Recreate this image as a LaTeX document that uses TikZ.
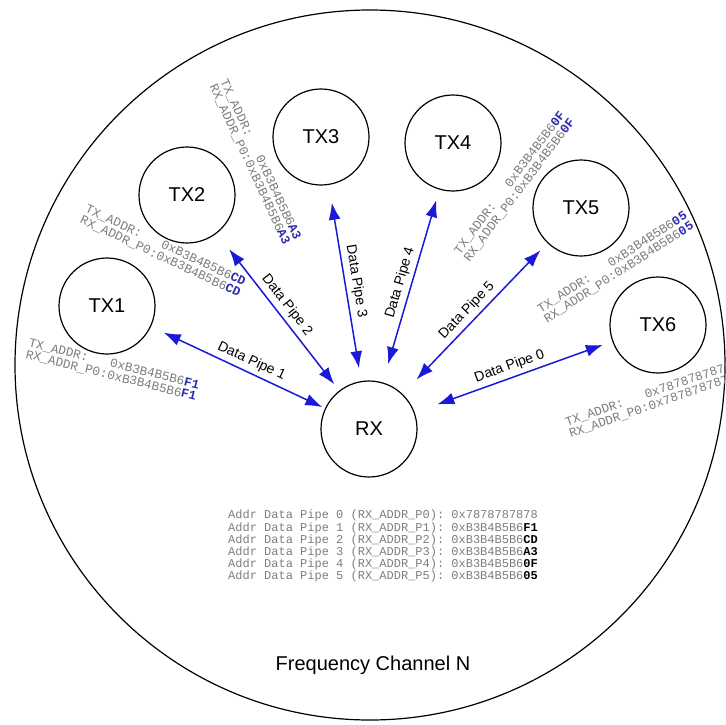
\documentclass[tikz,border=0pt]{standalone}
\usepackage{fontspec}
\setmainfont{Liberation Sans}
\setmonofont{Liberation Mono}
\usetikzlibrary{arrows.meta}
\definecolor{pipeblue}{RGB}{25,25,215}
\definecolor{addrgrey}{RGB}{125,125,125}
\definecolor{hexblue}{RGB}{45,45,175}
\newcommand{\hb}[1]{\textcolor{hexblue}{\bfseries #1}}
\newcommand{\hk}[1]{\textcolor{black}{\bfseries #1}}
\begin{document}
\begin{tikzpicture}[x=1pt,y=-1pt,
  dev/.style={circle, draw=black, line width=1.2pt, minimum size=96pt, inner sep=0pt,
    font=\fontsize{20}{23}\selectfont},
  pipe/.style={draw=pipeblue, line width=1.5pt,
    {Latex[length=17pt,width=12pt]}-{Latex[length=17pt,width=12pt]}},
  pipelabel/.style={sloped, above, font=\fontsize{14}{16}\selectfont, inner sep=4pt},
  addr/.style={font=\fontsize{12.7}{12}\selectfont\ttfamily, text=addrgrey, align=left,
    inner sep=0pt, anchor=north west},
  tablestyle/.style={font=\fontsize{12}{11}\selectfont\ttfamily, text=addrgrey, align=left,
    inner sep=0pt, anchor=north west},
  channel/.style={font=\fontsize{20}{23}\selectfont, inner sep=0pt},
]
\useasboundingbox (0,0) rectangle (726,724);
\begin{scope}
  \clip (0,0) rectangle (726,724);
  \draw[line width=1.2pt] (370,365) circle[radius=355];
\end{scope}

\node[dev] (TX1) at (107,306) {TX1};
\node[dev] (TX2) at (187,195) {TX2};
\node[dev] (TX3) at (321,137) {TX3};
\node[dev] (TX4) at (453,143) {TX4};
\node[dev] (TX5) at (581,208) {TX5};
\node[dev] (TX6) at (658,325) {TX6};
\node[dev] (RX)  at (369,429) {RX};

\draw[pipe, shorten <=14pt, shorten >=3pt] (TX1) -- node[pipelabel, pos=0.55] {Data Pipe 1} (RX);
\draw[pipe, shorten <=20pt, shorten >=8pt] (TX2) -- node[pipelabel] {Data Pipe 2} (RX);
\draw[pipe, shorten <=18pt, shorten >=13pt] (TX3) -- node[pipelabel] {Data Pipe 3} (RX);
\draw[pipe, shorten <=19pt, shorten >=11pt] (RX) -- node[pipelabel] {Data Pipe 4} (TX4);
\draw[pipe, shorten <=20pt, shorten >=10pt] (RX) -- node[pipelabel] {Data Pipe 5} (TX5);
\draw[pipe, shorten <=24pt, shorten >=10pt] (RX) -- node[pipelabel] {Data Pipe 0} (TX6);

\node[addr, rotate=-14] (a1) at (30,338)
  {TX\_ADDR:\phantom{000}0xB3B4B5B6\hb{F1}\\RX\_ADDR\_P0:0xB3B4B5B6\hb{F1}};
\node[addr, rotate=-25] (a2) at (88,204)
  {TX\_ADDR:\phantom{000}0xB3B4B5B6\hb{CD}\\RX\_ADDR\_P0:0xB3B4B5B6\hb{CD}};
\node[addr, rotate=-65] (a3) at (228,78)
  {TX\_ADDR:\phantom{000}0xB3B4B5B6\hb{A3}\\RX\_ADDR\_P0:0xB3B4B5B6\hb{A3}};
\node[addr, rotate=53] (a4) at (453,250)
  {TX\_ADDR:\phantom{000}0xB3B4B5B6\hb{0F}\\RX\_ADDR\_P0:0xB3B4B5B6\hb{0F}};
\node[addr, rotate=33] (a5) at (536,306)
  {TX\_ADDR:\phantom{000}0xB3B4B5B6\hb{05}\\RX\_ADDR\_P0:0xB3B4B5B6\hb{05}};
\node[addr, rotate=19] (a6) at (564,418)
  {TX\_ADDR:\phantom{000}0x7878787878\\RX\_ADDR\_P0:0x7878787878};

\node[tablestyle] (tbl) at (228,510)
  {Addr Data Pipe 0 (RX\_ADDR\_P0): 0x7878787878\\
   Addr Data Pipe 1 (RX\_ADDR\_P1): 0xB3B4B5B6\hk{F1}\\
   Addr Data Pipe 2 (RX\_ADDR\_P2): 0xB3B4B5B6\hk{CD}\\
   Addr Data Pipe 3 (RX\_ADDR\_P3): 0xB3B4B5B6\hk{A3}\\
   Addr Data Pipe 4 (RX\_ADDR\_P4): 0xB3B4B5B6\hk{0F}\\
   Addr Data Pipe 5 (RX\_ADDR\_P5): 0xB3B4B5B6\hk{05}};

\node[channel] (chan) at (373,665) {Frequency Channel N};
\end{tikzpicture}
\end{document}
